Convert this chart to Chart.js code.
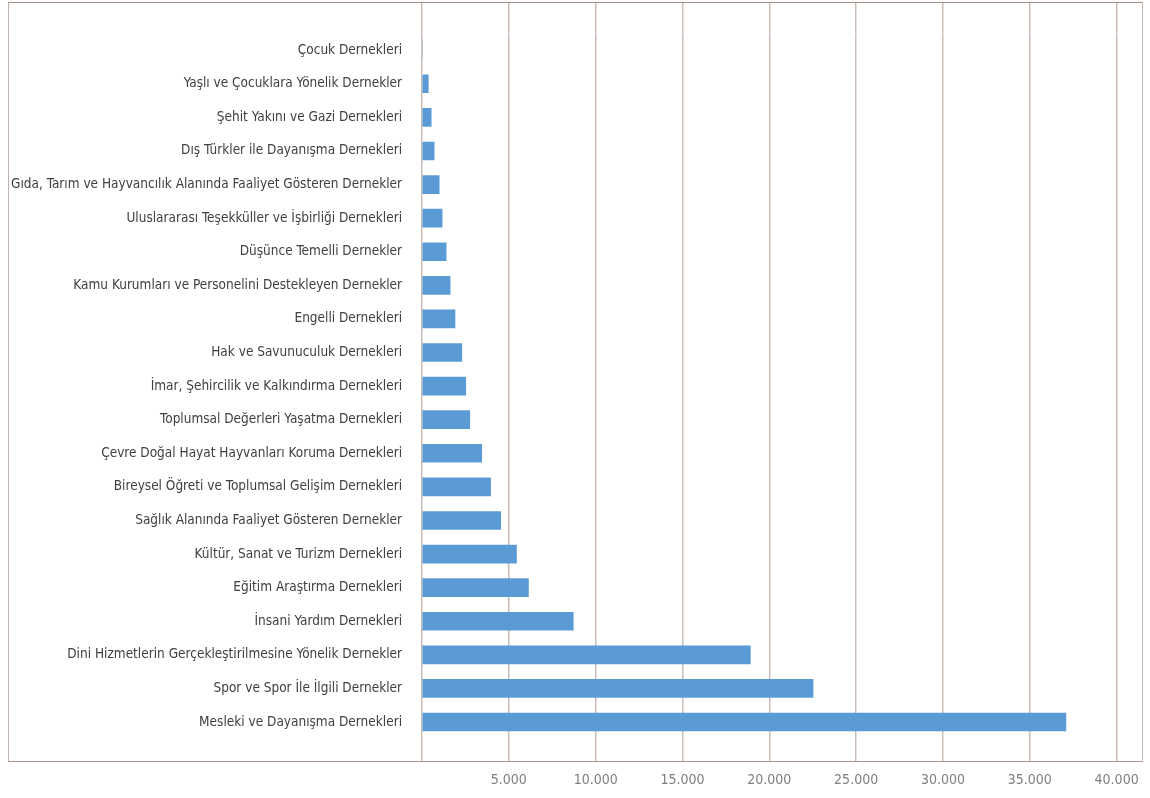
<!DOCTYPE html>
<html>
<head>
<meta charset="utf-8">
<script src="https://cdn.jsdelivr.net/npm/chart.js@4.4.1/dist/chart.umd.min.js"></script>
<style>
  body { margin: 0; background: #fff; }
  #wrap { position: relative; width: 1150px; height: 798px; }
  #frame {
    position: absolute; left: 8px; top: 2px; width: 1133px; height: 758px;
    border-top: 1px solid #a88e86; border-left: 1px solid #c0b2ac;
    border-bottom: 1px solid #a89890; border-right: 1px solid #c8bab4;
    pointer-events: none;
  }
</style>
</head>
<body>
<div id="wrap">
  <canvas id="dernekChart"></canvas>
  <div id="frame"></div>
</div>
<script>
// categories, top to bottom
var categories = [
  "Çocuk Dernekleri",
  "Yaşlı ve Çocuklara Yönelik Dernekler",
  "Şehit Yakını ve Gazi Dernekleri",
  "Dış Türkler ile Dayanışma Dernekleri",
  "Gıda, Tarım ve Hayvancılık Alanında Faaliyet Gösteren Dernekler",
  "Uluslararası Teşekküller ve İşbirliği Dernekleri",
  "Düşünce Temelli Dernekler",
  "Kamu Kurumları ve Personelini Destekleyen Dernekler",
  "Engelli Dernekleri",
  "Hak ve Savunuculuk Dernekleri",
  "İmar, Şehircilik ve Kalkındırma Dernekleri",
  "Toplumsal Değerleri Yaşatma Dernekleri",
  "Çevre Doğal Hayat Hayvanları Koruma Dernekleri",
  "Bireysel Öğreti ve Toplumsal Gelişim Dernekleri",
  "Sağlık Alanında Faaliyet Gösteren Dernekler",
  "Kültür, Sanat ve Turizm Dernekleri",
  "Eğitim Araştırma Dernekleri",
  "İnsani Yardım Dernekleri",
  "Dini Hizmetlerin Gerçekleştirilmesine Yönelik Dernekler",
  "Spor ve Spor İle İlgili Dernekler",
  "Mesleki ve Dayanışma Dernekleri"
];
var dernekSayisi = [
  0, 360, 530, 700, 990, 1160, 1390, 1620, 1900, 2290, 2520,
  2750, 3440, 3950, 4530, 5440, 6130, 8710, 18910, 22520, 37080
];
var xTicks = [0, 5000, 10000, 15000, 20000, 25000, 30000, 35000, 40000];
var xMin = 0;
var xMax = 41260;

var labelFont = { family: "'DejaVu Sans Condensed', 'Liberation Sans Narrow', sans-serif", size: 13.5 };
var tickFont = { family: "'DejaVu Sans Condensed', 'Liberation Sans Narrow', sans-serif", size: 14 };
var gridColor = "#cbbdb6";

function formatTR(v) {
  if (v === 0) return "";
  return String(v).replace(/\B(?=(\d{3})+(?!\d))/g, ".");
}

function setTicks(scale) {
  scale.ticks = xTicks.map(function (v) { return { value: v }; });
}

new Chart(document.getElementById("dernekChart"), {
  type: "bar",
  data: {
    labels: categories,
    datasets: [{
      data: dernekSayisi,
      backgroundColor: "#5b9bd5",
      barThickness: 18
    }]
  },
  options: {
    indexAxis: "y",
    responsive: true,
    maintainAspectRatio: false,
    animation: false,
    layout: { padding: { left: 0, right: 8, top: 2, bottom: 0 } },
    plugins: { legend: { display: false }, tooltip: { enabled: false } },
    scales: {
      y: {
        type: "category",
        grid: { display: false, drawTicks: false },
        border: { display: false },
        ticks: { autoSkip: false, color: "#404040", font: labelFont, padding: 20 },
        afterFit: function (s) { s.width = 422; }
      },
      x: {
        type: "linear",
        position: "bottom",
        min: xMin, max: xMax,
        border: { display: false },
        grid: { color: gridColor, lineWidth: 1.5, tickLength: 22.2 },
        ticks: {
          color: "#7f7f7f", font: tickFont, padding: 11, maxRotation: 0,
          callback: function (v) { return formatTR(v); }
        },
        afterBuildTicks: setTicks,
        afterFit: function (s) { s.height = 59.2; }
      },
      x2: {
        type: "linear",
        position: "top",
        min: xMin, max: xMax,
        border: { display: false },
        grid: { color: gridColor, lineWidth: 1.5, tickLength: 31.4, drawOnChartArea: false },
        ticks: { display: false },
        afterBuildTicks: setTicks,
        afterFit: function (s) { s.height = 31.4; }
      }
    }
  }
});
</script>
</body>
</html>
